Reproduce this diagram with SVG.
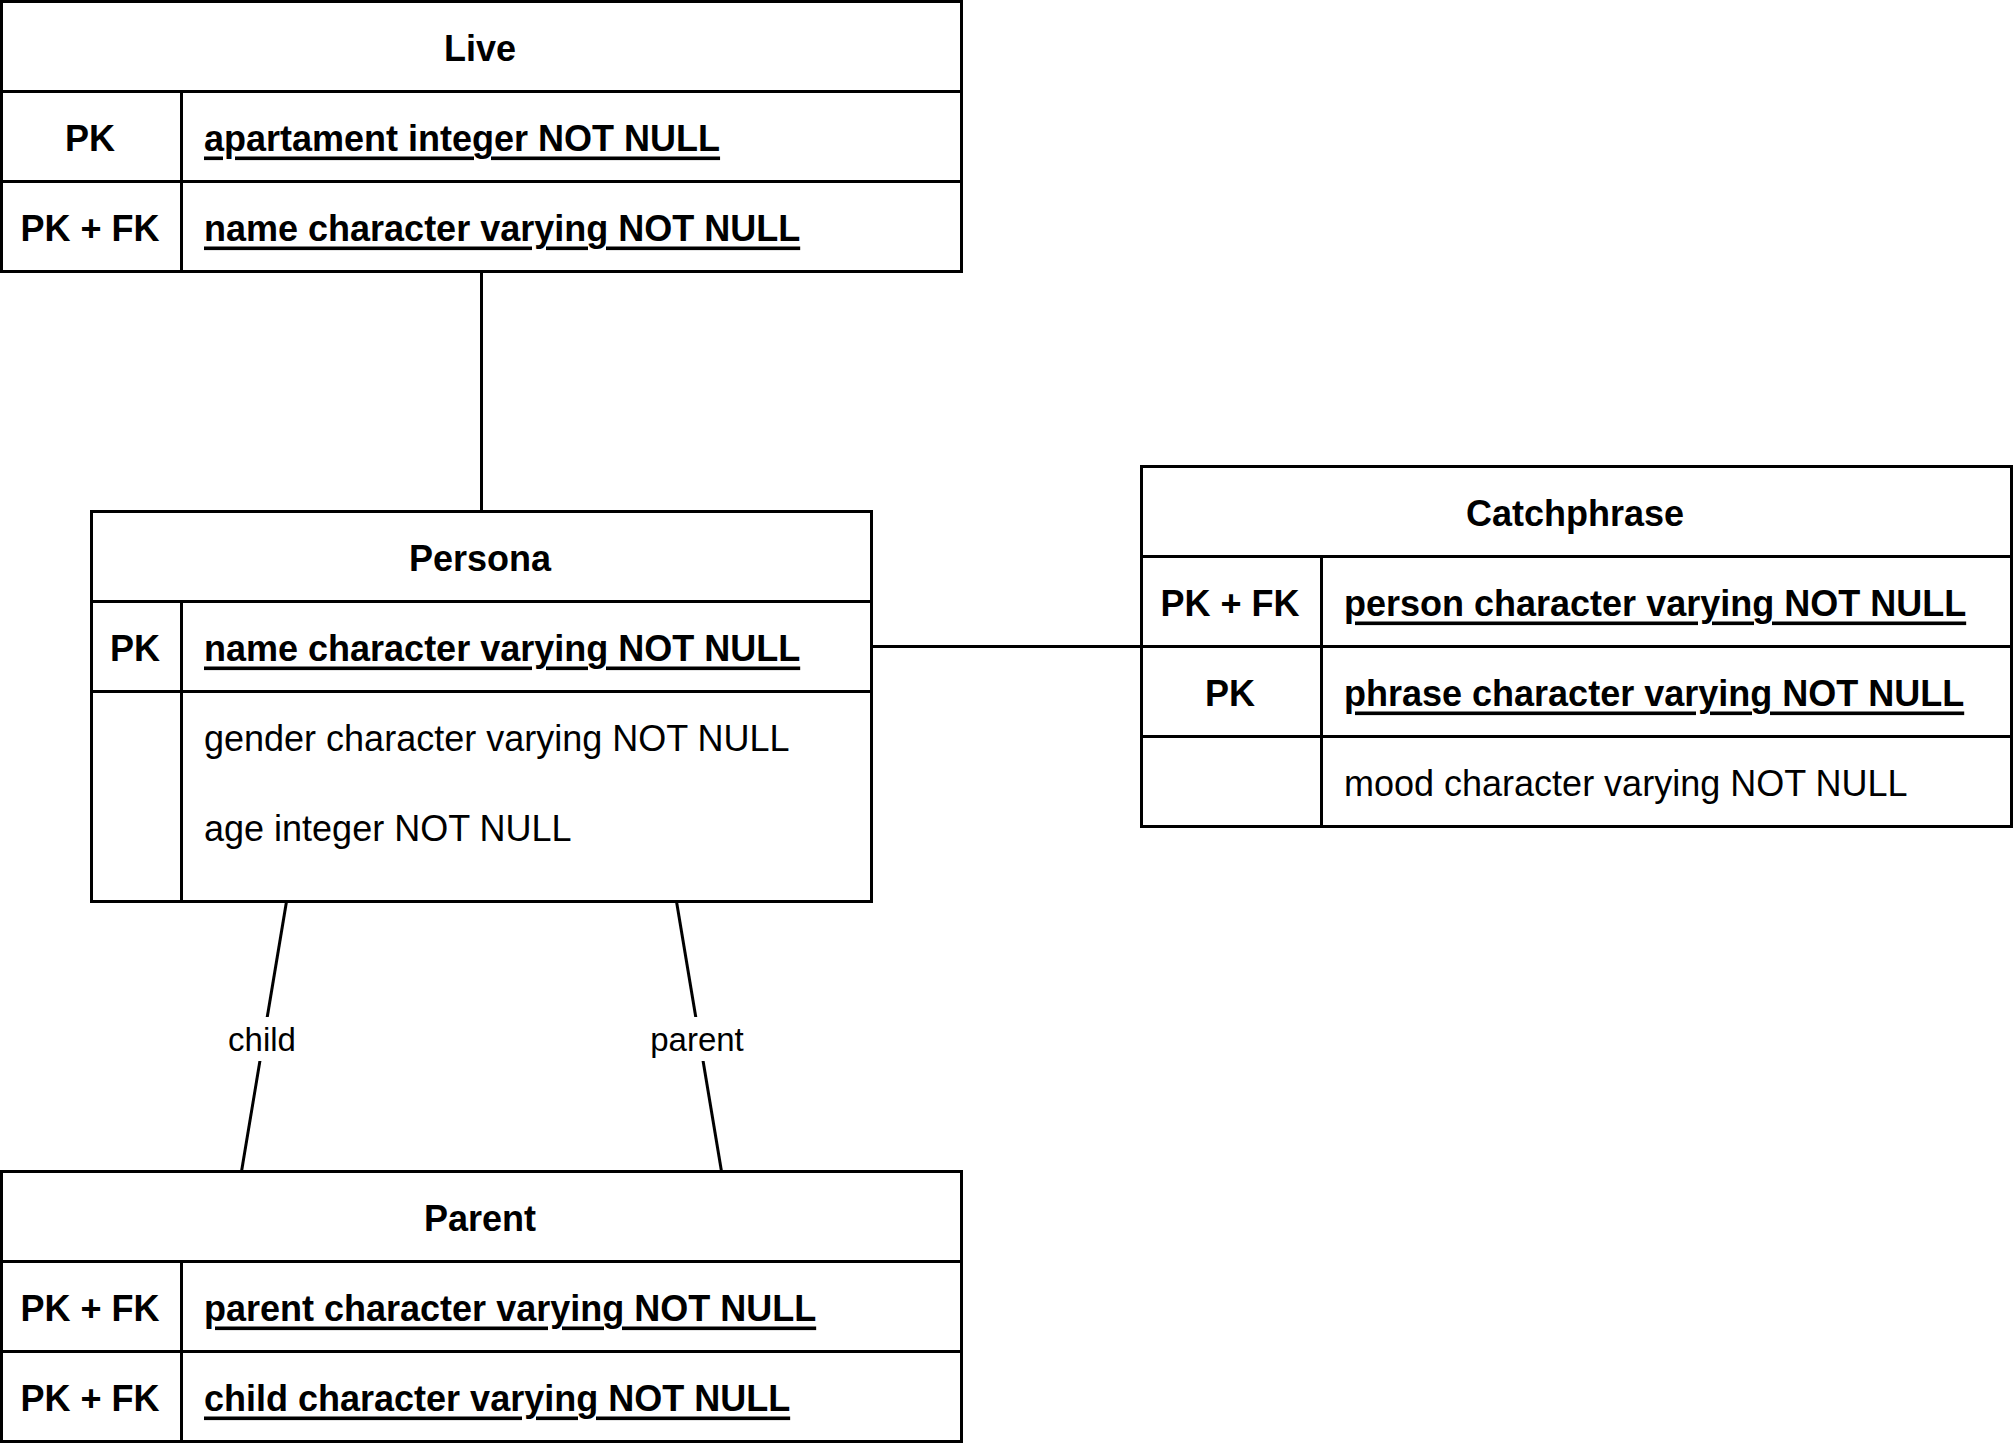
<svg xmlns="http://www.w3.org/2000/svg" width="2013" height="1443" viewBox="0 0 2013 1443">
<style>
.box{fill:#ffffff;stroke:#000000;stroke-width:3}
.ln{fill:none;stroke:#000000;stroke-width:3}
.t{font-family:"Liberation Sans",Arial,sans-serif;font-size:36px;fill:#000000;dominant-baseline:central}
.b{font-weight:bold}
.c{text-anchor:middle}
.u{text-decoration:underline}
.lbl{font-family:"Liberation Sans",Arial,sans-serif;font-size:33px;fill:#000000;text-anchor:middle;dominant-baseline:central}
.lblbg{fill:#ffffff;stroke:none}
</style>
<rect x="0" y="0" width="2013" height="1443" fill="#ffffff"/>
<g id="connectors">
  <line class="ln" x1="481.5" y1="271.5" x2="481.5" y2="511.5"/>
  <line class="ln" x1="871.5" y1="646.5" x2="1141.5" y2="646.5"/>
  <line class="ln" x1="286.5" y1="901.5" x2="241.5" y2="1171.5"/>
  <line class="ln" x1="676.5" y1="901.5" x2="721.5" y2="1171.5"/>
  <rect class="lblbg" x="228" y="1017" width="72" height="44"/>
  <text class="lbl" x="262" y="1039">child</text>
  <rect class="lblbg" x="651" y="1017" width="96" height="44"/>
  <text class="lbl" x="697" y="1039">parent</text>
</g>
<g id="live">
  <rect class="box" x="1.5" y="1.5" width="960" height="270"/>
  <line class="ln" x1="1.5" y1="91.5" x2="961.5" y2="91.5"/>
  <line class="ln" x1="1.5" y1="181.5" x2="961.5" y2="181.5"/>
  <line class="ln" x1="181.5" y1="91.5" x2="181.5" y2="271.5"/>
  <text class="t b c" x="480" y="48">Live</text>
  <text class="t b c" x="90" y="138">PK</text>
  <text class="t b u" x="204" y="138">apartament integer NOT NULL</text>
  <text class="t b c" x="90" y="228">PK + FK</text>
  <text class="t b u" x="204" y="228">name character varying NOT NULL</text>
</g>
<g id="persona">
  <rect class="box" x="91.5" y="511.5" width="780" height="390"/>
  <line class="ln" x1="91.5" y1="601.5" x2="871.5" y2="601.5"/>
  <line class="ln" x1="91.5" y1="691.5" x2="871.5" y2="691.5"/>
  <line class="ln" x1="181.5" y1="601.5" x2="181.5" y2="901.5"/>
  <text class="t b c" x="480" y="558">Persona</text>
  <text class="t b c" x="135" y="648">PK</text>
  <text class="t b u" x="204" y="648">name character varying NOT NULL</text>
  <text class="t" x="204" y="738">gender character varying NOT NULL</text>
  <text class="t" x="204" y="828">age integer NOT NULL</text>
</g>
<g id="catchphrase">
  <rect class="box" x="1141.5" y="466.5" width="870" height="360"/>
  <line class="ln" x1="1141.5" y1="556.5" x2="2011.5" y2="556.5"/>
  <line class="ln" x1="1141.5" y1="646.5" x2="2011.5" y2="646.5"/>
  <line class="ln" x1="1141.5" y1="736.5" x2="2011.5" y2="736.5"/>
  <line class="ln" x1="1321.5" y1="556.5" x2="1321.5" y2="826.5"/>
  <text class="t b c" x="1575" y="513">Catchphrase</text>
  <text class="t b c" x="1230" y="603">PK + FK</text>
  <text class="t b u" x="1344" y="603">person character varying NOT NULL</text>
  <text class="t b c" x="1230" y="693">PK</text>
  <text class="t b u" x="1344" y="693">phrase character varying NOT NULL</text>
  <text class="t" x="1344" y="783">mood character varying NOT NULL</text>
</g>
<g id="parent">
  <rect class="box" x="1.5" y="1171.5" width="960" height="270"/>
  <line class="ln" x1="1.5" y1="1261.5" x2="961.5" y2="1261.5"/>
  <line class="ln" x1="1.5" y1="1351.5" x2="961.5" y2="1351.5"/>
  <line class="ln" x1="181.5" y1="1261.5" x2="181.5" y2="1441.5"/>
  <text class="t b c" x="480" y="1218">Parent</text>
  <text class="t b c" x="90" y="1308">PK + FK</text>
  <text class="t b u" x="204" y="1308">parent character varying NOT NULL</text>
  <text class="t b c" x="90" y="1398">PK + FK</text>
  <text class="t b u" x="204" y="1398">child character varying NOT NULL</text>
</g>
</svg>
